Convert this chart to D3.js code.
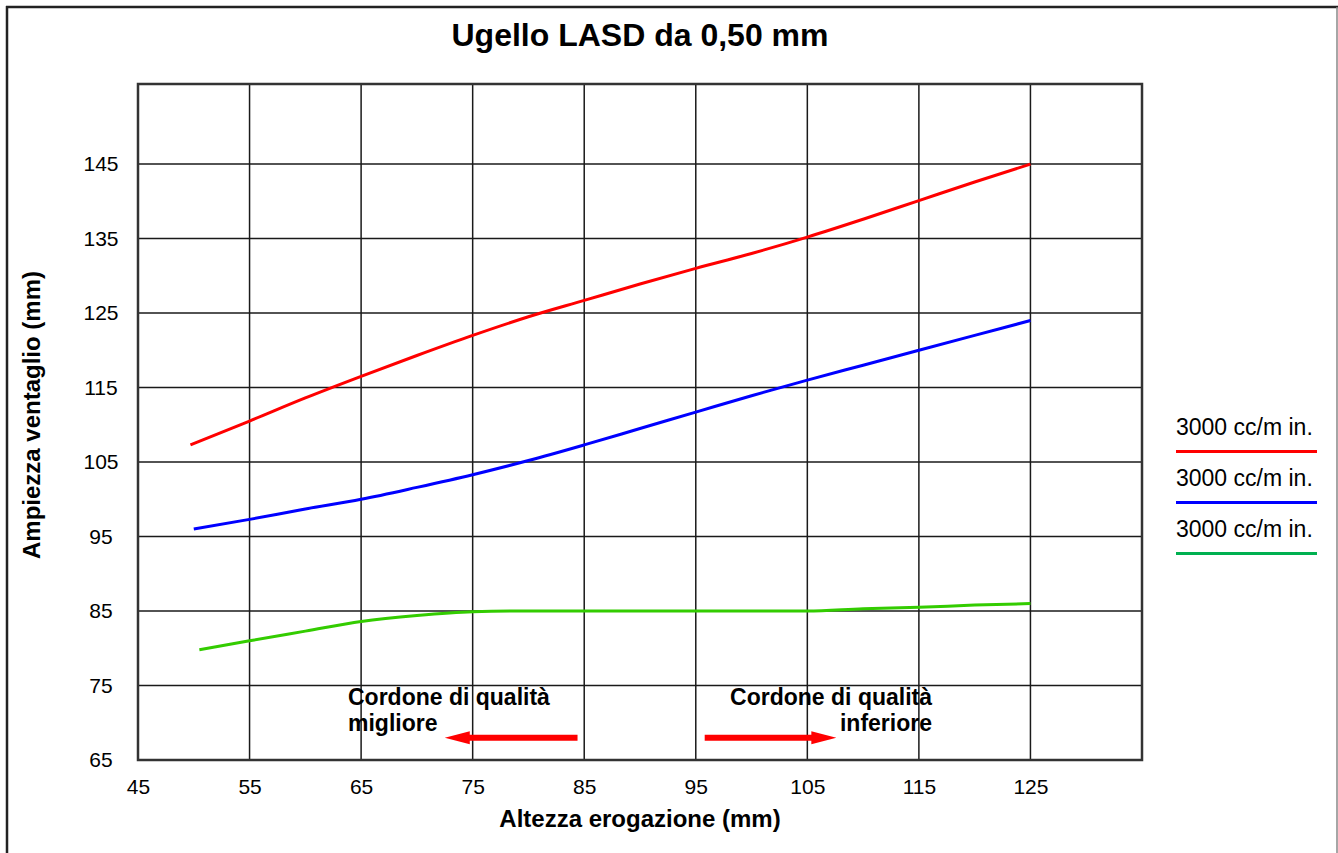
<!DOCTYPE html>
<html>
<head>
<meta charset="utf-8">
<style>
  body { margin: 0; background: #fff; }
  svg { display: block; font-family: "Liberation Sans", Arial, Helvetica, sans-serif; }
</style>
</head>
<body>
<svg width="1338" height="853"></svg>
<script src="https://d3js.org/d3.v7.min.js"></script>
<script>

// data
var title = "Ugello LASD da 0,50 mm";
var xTicks = [45, 55, 65, 75, 85, 95, 105, 115, 125];
var yTicks = [65, 75, 85, 95, 105, 115, 125, 135, 145];
var legendLabels = ["3000 cc/m in.", "3000 cc/m in.", "3000 cc/m in."];

var redX   = [49.7, 55, 60, 65, 70, 75, 80, 85, 90, 95, 100, 105, 110, 115, 120, 125];
var redY   = [107.3, 110.5, 113.6, 116.5, 119.3, 122, 124.5, 126.7, 128.9, 131, 133, 135.2, 137.6, 140.1, 142.6, 145];
var blueX  = [50, 55, 60, 65, 70, 75, 80, 85, 90, 95, 100, 105, 110, 115, 120, 125];
var blueY  = [96, 97.3, 98.7, 100, 101.6, 103.3, 105.2, 107.3, 109.5, 111.7, 113.9, 116, 118, 120, 122, 124];
var greenX = [50.5, 55, 60, 65, 70, 75, 80, 85, 90, 95, 100, 105, 110, 115, 120, 125];
var greenY = [79.8, 81, 82.3, 83.6, 84.4, 84.9, 85, 85, 85, 85, 85, 85, 85.3, 85.5, 85.8, 86];

// annotation arrows (from -> tip, in data units)
var arrows = [{from: 84.4, to: 72.5, y: 68}, {from: 95.8, to: 107.6, y: 68}];

var svg = d3.select("svg"),
    plotLeft = 138, plotRight = 1142, plotTop = 84, plotBottom = 760;

var x = d3.scaleLinear().domain([45, 135]).range([plotLeft, plotRight]);
var y = d3.scaleLinear().domain([65, 155.75]).range([plotBottom, plotTop]);

// outer frame of the figure
svg.append("line").attr("x1", 6).attr("x2", 1338).attr("y1", 7).attr("y2", 7)
    .attr("stroke", "#222").attr("stroke-width", 2.5);
svg.append("line").attr("x1", 7).attr("x2", 7).attr("y1", 6).attr("y2", 853)
    .attr("stroke", "#222").attr("stroke-width", 2.5);
svg.append("line").attr("x1", 1337).attr("x2", 1337).attr("y1", 7).attr("y2", 853)
    .attr("stroke", "#888").attr("stroke-width", 1.5);

svg.append("text")
    .attr("x", 640).attr("y", 46)
    .attr("text-anchor", "middle")
    .attr("font-size", 32).attr("font-weight", "bold")
    .text(title);

// grid
var grid = svg.append("g").attr("stroke", "#1a1a1a").attr("stroke-width", 1.5);
grid.selectAll(".vx").data(d3.range(55, 135, 10)).enter().append("line")
    .attr("x1", function(d) { return x(d); }).attr("x2", function(d) { return x(d); })
    .attr("y1", plotTop).attr("y2", plotBottom);
grid.selectAll(".hy").data(yTicks.slice(1)).enter().append("line")
    .attr("x1", plotLeft).attr("x2", plotRight)
    .attr("y1", function(d) { return y(d); }).attr("y2", function(d) { return y(d); });

svg.append("rect")
    .attr("x", plotLeft).attr("y", plotTop)
    .attr("width", plotRight - plotLeft).attr("height", plotBottom - plotTop)
    .attr("fill", "none").attr("stroke", "#333").attr("stroke-width", 2.5);

// axes (labels only, the grid does the lines)
var xAxis = svg.append("g")
    .attr("transform", "translate(0," + (plotBottom + 16) + ")")
    .call(d3.axisBottom(x).tickValues(xTicks).tickSize(0));
xAxis.attr("font-family", null).attr("font-size", 21);
xAxis.select(".domain").remove();
xAxis.selectAll("text").attr("fill", "#000");

var yAxis = svg.append("g")
    .call(d3.axisLeft(y).tickValues(yTicks).tickSize(0));
yAxis.attr("font-family", null).attr("font-size", 21);
yAxis.select(".domain").remove();
yAxis.selectAll("text")
    .attr("x", 101).attr("text-anchor", "middle")
    .attr("fill", "#000");

svg.append("text")
    .attr("x", 640).attr("y", 827)
    .attr("text-anchor", "middle")
    .attr("font-size", 24).attr("font-weight", "bold")
    .text("Altezza erogazione (mm)");

svg.append("text")
    .attr("transform", "translate(40,415) rotate(-90)")
    .attr("text-anchor", "middle")
    .attr("font-size", 24).attr("font-weight", "bold")
    .text("Ampiezza ventaglio (mm)");

// series
var line = d3.line()
    .x(function(d) { return x(d[0]); })
    .y(function(d) { return y(d[1]); })
    .curve(d3.curveMonotoneX);

var series = [
  {xs: redX, ys: redY, color: "#ff0000"},
  {xs: blueX, ys: blueY, color: "#0000ff"},
  {xs: greenX, ys: greenY, color: "#33cc00"}
];

series.forEach(function(s) {
  svg.append("path")
      .datum(d3.zip(s.xs, s.ys))
      .attr("fill", "none")
      .attr("stroke", s.color)
      .attr("stroke-width", 3)
      .attr("d", line);
});

// annotations (two lines each)
var note = svg.append("g").attr("font-size", 23).attr("font-weight", "bold");
var t1 = note.append("text").attr("y", 705);
t1.append("tspan").attr("x", 348).text("Cordone di qualità");
t1.append("tspan").attr("x", 348).attr("dy", 26).text("migliore");
var t2 = note.append("text").attr("y", 705).attr("text-anchor", "end");
t2.append("tspan").attr("x", 932).text("Cordone di qualità");
t2.append("tspan").attr("x", 932).attr("dy", 26).text("inferiore");

arrows.forEach(function(a) {
  var dir = a.to > a.from ? 1 : -1,
      x0 = x(a.from), x1 = x(a.to), yy = y(a.y),
      hb = x1 - dir * 25;
  var p = d3.path();
  p.moveTo(x0, yy - 3);
  p.lineTo(hb, yy - 3);
  p.lineTo(hb, yy - 6.5);
  p.lineTo(x1, yy);
  p.lineTo(hb, yy + 6.5);
  p.lineTo(hb, yy + 3);
  p.lineTo(x0, yy + 3);
  p.closePath();
  svg.append("path").attr("d", p.toString()).attr("fill", "#ff0000");
});

// legend
var legendColors = ["#ff0000", "#0000ff", "#00b050"];
var legend = svg.append("g");
legendLabels.forEach(function(t, i) {
  var by = 435 + i * 51;
  legend.append("text")
      .attr("x", 1176).attr("y", by)
      .attr("font-size", 23)
      .text(t);
  legend.append("line")
      .attr("x1", 1176).attr("x2", 1317)
      .attr("y1", by + 16.5).attr("y2", by + 16.5)
      .attr("stroke", legendColors[i]).attr("stroke-width", 3);
});

</script>
</body>
</html>
